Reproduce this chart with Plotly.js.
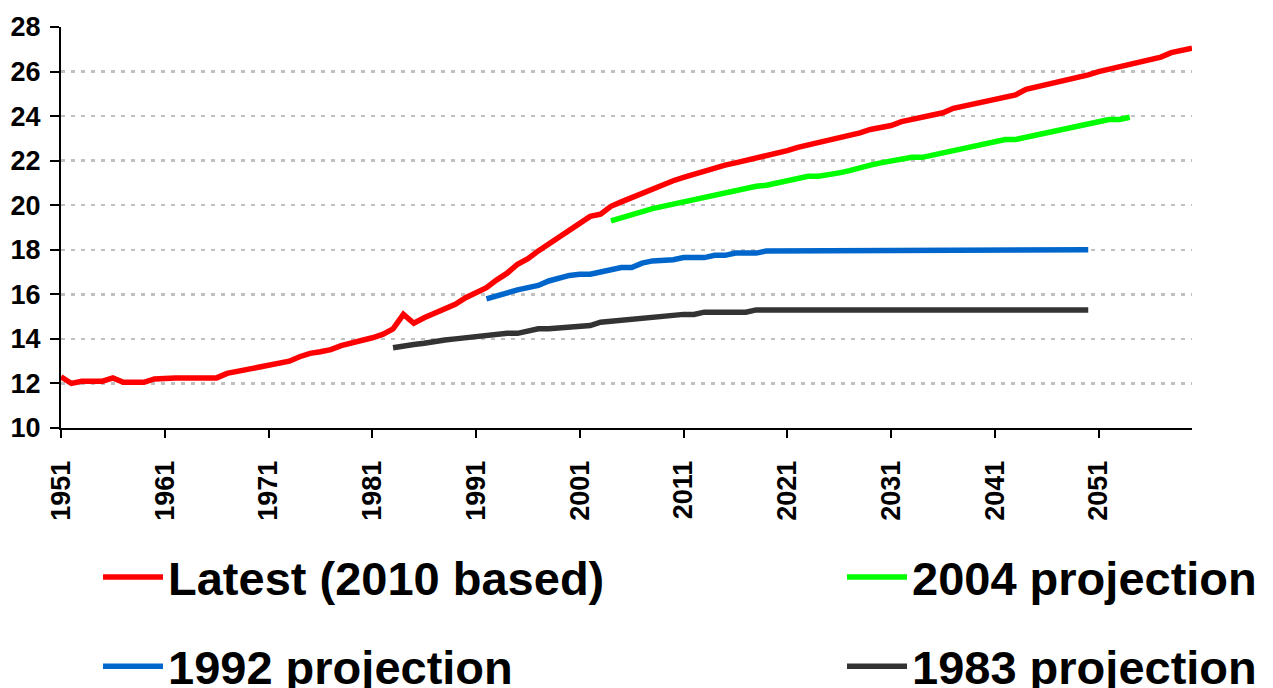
<!DOCTYPE html>
<html>
<head>
<meta charset="utf-8">
<script src="https://cdn.plot.ly/plotly-3.0.1.min.js"></script>
<style>
html,body{margin:0;padding:0;background:#fff;}
#chart{width:1273px;height:688px;}
</style>
</head>
<body>
<div id="chart"></div>
<script>
// Series names
const seriesNames = ["Latest (2010 based)", "2004 projection", "1992 projection", "1983 projection"];

// First year of each series
const latestStart = 1951;
const proj2004Start = 2004;
const proj1992Start = 1992;
const proj1983Start = 1983;

// Latest (2010 based): 1951 - 2060
const latestValues = [
  12.3, 12.0, 12.1, 12.1, 12.1, 12.25, 12.05, 12.05, 12.05, 12.2,
  12.25, 12.25, 12.25, 12.25, 12.25, 12.25, 12.45, 12.55, 12.65, 12.75,
  12.82, 12.9, 13.0, 13.2, 13.35, 13.42, 13.52, 13.7, 13.8, 13.95,
  14.05, 14.2, 14.45, 15.1, 14.7, 14.95, 15.15, 15.35, 15.55, 15.85,
  16.05, 16.3, 16.65, 16.95, 17.35, 17.6, 17.95, 18.25, 18.55, 18.85,
  19.2, 19.5, 19.6, 19.95, 20.15, 20.35, 20.5, 20.7, 20.95, 21.1,
  21.25, 21.4, 21.55, 21.7, 21.8, 21.9, 22.0, 22.1, 22.2, 22.3,
  22.45, 22.6, 22.7, 22.8, 22.9, 23.05, 23.15, 23.25, 23.4, 23.5,
  23.58, 23.75, 23.85, 23.95, 24.05, 24.15, 24.35, 24.45, 24.55, 24.65,
  24.75, 24.85, 24.95, 25.2, 25.3, 25.4, 25.5, 25.6, 25.75, 25.85,
  26.0, 26.1, 26.2, 26.35, 26.45, 26.55, 26.65, 26.85, 26.95, 27.05
];

// 2004 projection: 2004 - 2054
const proj2004Values = [
  19.3, 19.45, 19.55, 19.7, 19.85, 19.95, 20.05, 20.15, 20.25, 20.35,
  20.45, 20.55, 20.65, 20.8, 20.85, 20.9, 21.0, 21.1, 21.2, 21.3,
  21.3, 21.35, 21.45, 21.55, 21.7, 21.8, 21.9, 22.0, 22.1, 22.15,
  22.15, 22.25, 22.35, 22.45, 22.6, 22.7, 22.8, 22.9, 22.95, 22.95,
  23.05, 23.15, 23.3, 23.4, 23.5, 23.6, 23.7, 23.8, 23.85, 23.85,
  23.95
];

// 1992 projection: 1992 - 2050
const proj1992Values = [
  15.8, 15.95, 16.1, 16.2, 16.3, 16.4, 16.6, 16.75, 16.85, 16.9,
  16.9, 17.0, 17.1, 17.2, 17.2, 17.4, 17.5, 17.5, 17.55, 17.65,
  17.65, 17.65, 17.75, 17.75, 17.85, 17.85, 17.85, 17.95, 17.95, 17.95,
  18.0, 18.0, 18.0, 18.0, 18.0, 18.0, 18.0, 18.0, 18.0, 18.0,
  18.0, 18.0, 18.0, 18.0, 18.0, 18.0, 18.0, 18.0, 18.0, 18.0,
  18.0, 18.0, 18.0, 18.0, 18.0, 18.0, 18.0, 18.0, 18.0
];

// 1983 projection: 1983 - 2050
const proj1983Values = [
  13.6, 13.7, 13.75, 13.8, 13.9, 13.95, 14.0, 14.05, 14.1, 14.2,
  14.2, 14.25, 14.25, 14.35, 14.45, 14.45, 14.5, 14.55, 14.6, 14.6,
  14.75, 14.8, 14.85, 14.9, 14.95, 15.0, 15.0, 15.05, 15.1, 15.1,
  15.2, 15.2, 15.2, 15.2, 15.2, 15.3, 15.3, 15.3, 15.3, 15.3,
  15.3, 15.3, 15.3, 15.3, 15.3, 15.3, 15.3, 15.3, 15.3, 15.3,
  15.3, 15.3, 15.3, 15.3, 15.3, 15.3, 15.3, 15.3, 15.3, 15.3,
  15.3, 15.3, 15.3, 15.3, 15.3, 15.3, 15.3, 15.3
];

// Axis ticks
const xTickYears = [1951, 1961, 1971, 1981, 1991, 2001, 2011, 2021, 2031, 2041, 2051];
const xTickLabels = ["1951", "1961", "1971", "1981", "1991", "2001", "2011", "2021", "2031", "2041", "2051"];
const yTickValues = [10, 12, 14, 16, 18, 20, 22, 24, 26, 28];

function yearsFor(start, values) { return values.map((_, i) => start + i); }

const FONT = "'Liberation Sans', Arial, sans-serif";

function trace(name, start, values, color, legendId, group) {
  return {
    type: 'scatter', mode: 'lines', name: name,
    x: yearsFor(start, values), y: values,
    line: {color: color, width: 5.5, shape: 'linear'},
    legend: legendId, legendgroup: group,
    hoverinfo: 'x+y+name'
  };
}

const data = [
  trace(seriesNames[0], latestStart, latestValues, '#ff0000', 'legend', 'a'),
  trace(seriesNames[1], proj2004Start, proj2004Values, '#00ff00', 'legend2', 'c'),
  trace(seriesNames[2], proj1992Start, proj1992Values, '#0066cc', 'legend', 'b'),
  trace(seriesNames[3], proj1983Start, proj1983Values, '#333333', 'legend2', 'd')
];

const legendCommon = {
  xref: 'container', yref: 'container',
  xanchor: 'left', yanchor: 'top',
  y: 1 - 540 / 688,
  orientation: 'v',
  traceorder: 'grouped',
  tracegroupgap: 25,
  itemwidth: 60,
  bgcolor: 'rgba(0,0,0,0)',
  borderwidth: 0,
  font: {family: FONT, size: 47, weight: 'bold', color: '#000'}
};

const layout = {
  width: 1273, height: 688,
  margin: {l: 61, r: 81, t: 27, b: 260, autoexpand: false},
  paper_bgcolor: '#fff', plot_bgcolor: '#fff',
  font: {family: FONT, color: '#000'},
  showlegend: true,
  legend: Object.assign({}, legendCommon, {x: 98 / 1273}),
  legend2: Object.assign({}, legendCommon, {x: 842 / 1273}),
  xaxis: {
    type: 'linear', range: [1951, 2060],
    tickmode: 'array', tickvals: xTickYears, ticktext: xTickLabels,
    tickangle: -90,
    ticks: 'outside', ticklen: 8, tickwidth: 2, tickcolor: '#000',
    showline: true, linecolor: '#000', linewidth: 2,
    showgrid: false, zeroline: false,
    tickfont: {family: FONT, size: 27, weight: 'bold', color: '#000'},
    ticklabelstandoff: 12
  },
  yaxis: {
    range: [10, 28], tickmode: 'array', tickvals: yTickValues,
    ticks: 'outside', ticklen: 9, tickwidth: 2, tickcolor: '#000',
    showline: true, linecolor: '#000', linewidth: 2,
    showgrid: true, gridcolor: '#c0c0c0', gridwidth: 2.5, griddash: '4px,6px',
    zeroline: false,
    tickfont: {family: FONT, size: 27, weight: 'bold', color: '#000'},
    ticklabelstandoff: 4
  }
};

Plotly.newPlot('chart', data, layout, {displayModeBar: false, staticPlot: true});
</script>
</body>
</html>
